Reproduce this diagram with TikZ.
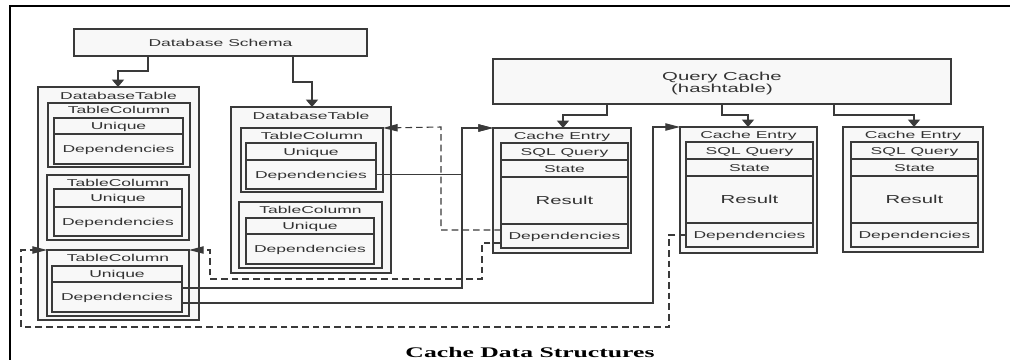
\documentclass[tikz,border=0pt]{standalone}
\usepackage{fontspec}
\setmainfont{Liberation Sans}
\newfontfamily\sfw[FakeStretch=1.75]{Liberation Sans}
\newfontfamily\capw[FakeStretch=1.75]{Liberation Serif}
\usetikzlibrary{arrows.meta}
\definecolor{lc}{HTML}{3A3A3A}
\definecolor{bf}{HTML}{F8F8F8}
\definecolor{tc}{HTML}{333333}
% box helper: style, name, x1, y1, x2, y2, text
\newcommand\boxn[7]{\node[#1, minimum width={(#5-#3)*0.75pt}, minimum height={(#6-#4)*0.75pt}] (#2) at ({(#3+#5)/2},{(#4+#6)/2}) {#7};}
\begin{document}
\begin{tikzpicture}[x=0.75pt,y=-0.75pt,
  bx/.style={draw=lc, fill=bf, line width=0.9pt, inner sep=0pt, outer sep=0pt, text=tc,
    font=\sfw\fontsize{7.5}{9}\selectfont},
  cell/.style={bx, text height=5.4pt, text depth=0pt},
  big/.style={font=\sfw\fontsize{8.7}{9.9}\selectfont, text height=6.3pt, text depth=0pt},
  ttl/.style={anchor=base, inner sep=0pt, text=tc, font=\sfw\fontsize{7.5}{9}\selectfont},
  bigttl/.style={ttl, font=\sfw\fontsize{8.7}{9.9}\selectfont},
  conn/.style={draw=lc, line width=0.8pt},
  dconn/.style={conn, dash pattern=on 5pt off 3pt},
  harr/.style={-{Triangle[length=11pt,width=5.5pt]}},
  varr/.style={-{Triangle[length=5.5pt,width=9pt]}}]
\useasboundingbox (0,0) rectangle (1010,360);
% frame
\draw[line width=2.2pt] (10,362) -- (10,6) -- (1012,6);

% Database schema
\boxn{cell}{schema}{74}{29}{367}{56}{Database Schema}

% DatabaseTable 1
\boxn{bx}{dt1}{38}{87}{199}{320}{}
\node[ttl] (dt1t) at (118.5,99) {DatabaseTable};
\boxn{bx}{tc11}{48}{103}{190}{167}{}
\node[ttl] (tc11t) at (119,113.5) {TableColumn};
\boxn{cell}{u11}{54}{118}{183}{134}{Unique}
\boxn{cell}{d11}{54}{134}{183}{164}{Dependencies}
\boxn{bx}{tc12}{47}{175}{189}{240}{}
\node[ttl] (tc12t) at (118,186) {TableColumn};
\boxn{cell}{u12}{54}{189}{182}{207}{Unique}
\boxn{cell}{d12}{54}{207}{182}{236}{Dependencies}
\boxn{bx}{tc13}{47}{250}{189}{316}{}
\node[ttl] (tc13t) at (118,261) {TableColumn};
\boxn{cell}{u13}{52}{266}{182}{282}{Unique}
\boxn{cell}{d13}{52}{282}{182}{312}{Dependencies}

% DatabaseTable 2
\boxn{bx}{dt2}{231}{107}{391}{273}{}
\node[ttl] (dt2t) at (311,119) {DatabaseTable};
\boxn{bx}{tc21}{241}{128}{383}{192}{}
\node[ttl] (tc21t) at (312,139) {TableColumn};
\boxn{cell}{u21}{246}{143}{376}{160}{Unique}
\boxn{cell}{d21}{246}{160}{376}{189}{Dependencies}
\boxn{bx}{tc22}{239}{202}{382}{268}{}
\node[ttl] (tc22t) at (310.5,213.5) {TableColumn};
\boxn{cell}{u22}{246}{218}{374}{234}{Unique}
\boxn{cell}{d22}{246}{234}{374}{264}{Dependencies}

% Query cache
\boxn{bx}{qc}{493}{59}{951}{104}{}
\node[bigttl] (qct1) at (722,80) {Query Cache};
\node[bigttl] (qct2) at (722,92.5) {(hashtable)};

% Cache entry 1
\boxn{bx}{ce1}{493}{128}{631}{253}{}
\node[ttl] (ce1t) at (562,139) {Cache Entry};
\boxn{cell}{q1}{501}{143}{628}{160}{SQL Query}
\boxn{cell}{s1}{501}{160}{628}{177}{State}
\boxn{cell,big}{r1}{501}{177}{628}{224}{Result}
\boxn{cell}{p1}{501}{224}{628}{248}{Dependencies}

% Cache entry 2
\boxn{bx}{ce2}{680}{127}{817}{253}{}
\node[ttl] (ce2t) at (748.5,138) {Cache Entry};
\boxn{cell}{q2}{686}{142}{813}{159}{SQL Query}
\boxn{cell}{s2}{686}{159}{813}{176}{State}
\boxn{cell,big}{r2}{686}{176}{813}{223}{Result}
\boxn{cell}{p2}{686}{223}{813}{247}{Dependencies}

% Cache entry 3
\boxn{bx}{ce3}{843}{127}{983}{252}{}
\node[ttl] (ce3t) at (913,138) {Cache Entry};
\boxn{cell}{q3}{851}{142}{978}{159}{SQL Query}
\boxn{cell}{s3}{851}{159}{978}{176}{State}
\boxn{cell,big}{r3}{851}{176}{978}{223}{Result}
\boxn{cell}{p3}{851}{223}{978}{247}{Dependencies}

% tree connectors
\draw[conn, varr] (148,0 |- schema.south) -- (148,71) -- (118,71) -- (118,0 |- dt1.north);
\draw[conn, varr] (293,0 |- schema.south) -- (293,82) -- (312,82) -- (312,0 |- dt2.north);
\draw[conn, varr] (607,0 |- qc.south) -- (607,115) -- (563,115) -- (563,0 |- ce1.north);
\draw[conn, varr] (722,0 |- qc.south) -- (722,115) -- (748,115) -- (748,0 |- ce2.north);
\draw[conn, varr] (834,0 |- qc.south) -- (834,115) -- (914,115) -- (914,0 |- ce3.north);

% solid dependency connectors
\draw[conn, harr] (d21.east) -- (462,0 |- d21.east) -- (462,128) -- (ce1.north west);
\draw[conn, harr] (d13.east |- 0,288) -- (462,288) -- (462,128) -- (ce1.north west);
\draw[conn, harr] (d13.east |- 0,303) -- (653,303) -- (653,127) -- (ce2.north west);

% dashed back references
\draw[dconn, harr] (p1.west |- 0,230) -- (441,230) -- (441,127) -- (tc21.north east);
\draw[dconn, harr] (p1.west |- 0,243) -- (482,243) -- (482,279) -- (210,279) -- (210,250) -- (tc13.north east);
\draw[dconn, harr] (p2.west |- 0,235) -- (669,235) -- (669,327) -- (21,327) -- (21,250) -- (tc13.north west);

% caption
\node[anchor=base, inner sep=0pt, font=\capw\bfseries\fontsize{11}{13}\selectfont] (cap) at (530,357) {Cache Data Structures};
\end{tikzpicture}
\end{document}
